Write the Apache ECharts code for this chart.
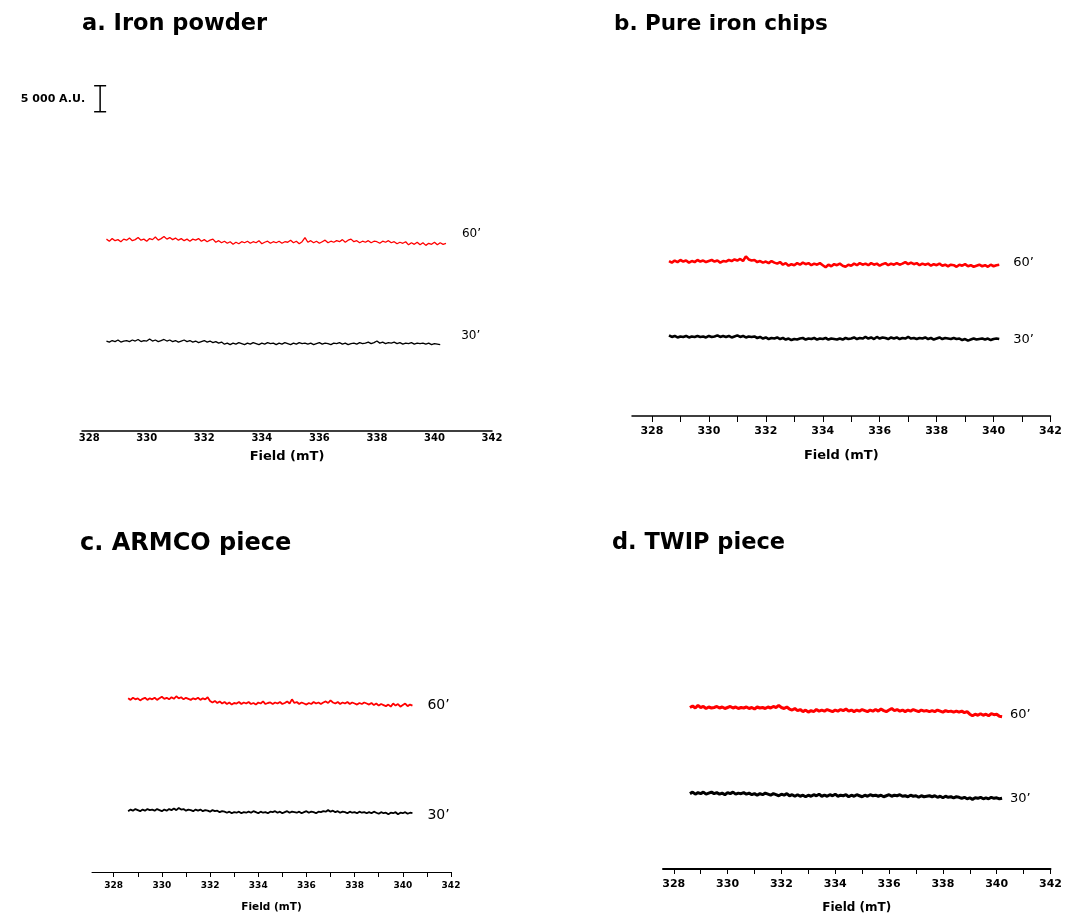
<!DOCTYPE html>
<html>
<head>
<meta charset="utf-8">
<script src="https://cdn.jsdelivr.net/npm/echarts@6/dist/echarts.min.js"></script>
<style>
html, body { margin: 0; background: #fff; }
#main { width: 1065px; height: 915px; }
</style>
</head>
<body>
<div id="main"></div>
<script>
// field (mT) sample points
var field = [
  328.6, 328.7, 328.8, 328.9, 329.0, 329.1, 329.2, 329.3, 329.4, 329.5,
  329.6, 329.7, 329.8, 329.9, 330.0, 330.1, 330.2, 330.3, 330.4, 330.5,
  330.6, 330.7, 330.8, 330.9, 331.0, 331.1, 331.2, 331.3, 331.4, 331.5,
  331.6, 331.7, 331.8, 331.9, 332.0, 332.1, 332.2, 332.3, 332.4, 332.5,
  332.6, 332.7, 332.8, 332.9, 333.0, 333.1, 333.2, 333.3, 333.4, 333.5,
  333.6, 333.7, 333.8, 333.9, 334.0, 334.1, 334.2, 334.3, 334.4, 334.5,
  334.6, 334.7, 334.8, 334.9, 335.0, 335.1, 335.2, 335.3, 335.4, 335.5,
  335.6, 335.7, 335.8, 335.9, 336.0, 336.1, 336.2, 336.3, 336.4, 336.5,
  336.6, 336.7, 336.8, 336.9, 337.0, 337.1, 337.2, 337.3, 337.4, 337.5,
  337.6, 337.7, 337.8, 337.9, 338.0, 338.1, 338.2, 338.3, 338.4, 338.5,
  338.6, 338.7, 338.8, 338.9, 339.0, 339.1, 339.2, 339.3, 339.4, 339.5,
  339.6, 339.7, 339.8, 339.9, 340.0, 340.1, 340.2, 340.3, 340.4
];
var tickValues = [328, 329, 330, 331, 332, 333, 334, 335, 336, 337, 338, 339, 340, 341, 342];
var labelValues = [328, 330, 332, 334, 336, 338, 340, 342];

// intensities (A.U., with offsets)
var ironPowder60 = [
  36900, 36500, 37000, 36600, 36800, 36400, 36900, 36700, 37100, 36600,
  36800, 37200, 36700, 36900, 36500, 37000, 36800, 37300, 36700, 37000,
  37400, 36900, 37200, 36800, 37100, 36700, 37000, 36600, 36900, 36500,
  36900, 36700, 37000, 36500, 36800, 36400, 36700, 36900, 36300, 36600,
  36200, 36500, 36100, 36400, 35900, 36300, 36000, 36400, 36200, 36500,
  36100, 36400, 36200, 36600, 36000, 36300, 36500, 36100, 36400, 36200,
  36500, 36100, 36400, 36300, 36700, 36200, 36500, 36000, 36400, 37200,
  36300, 36600, 36200, 36500, 36100, 36400, 36700, 36200, 36500, 36300,
  36600, 36400, 36800, 36300, 36700, 36900, 36400, 36600, 36200, 36500,
  36300, 36600, 36200, 36500, 36400, 36100, 36500, 36300, 36600, 36200,
  36400, 36000, 36300, 36100, 36400, 35800, 36200, 35900, 36300, 35800,
  36200, 35700, 36100, 35900, 36300, 35800, 36200, 35900, 36100
];
var ironPowder30 = [
  17300, 17100, 17400, 17200, 17500, 17100, 17300, 17400, 17200, 17500,
  17300, 17600, 17200, 17400, 17300, 17700, 17300, 17500, 17200, 17400,
  17600, 17300, 17500, 17200, 17400, 17100, 17300, 17500, 17200, 17400,
  17100, 17300, 17000, 17200, 17400, 17100, 17300, 17000, 17200, 16900,
  17100, 16700, 16900, 16600, 16900, 16700, 17000, 16800, 16600, 16900,
  16700, 17000, 16800, 16600, 16900, 16700, 17000, 16800, 16900, 16600,
  16900, 16700, 17000, 16800, 16600, 16900, 16700, 17000, 16800, 16900,
  16700, 16900, 16600, 16800, 17000, 16700, 16900, 16800, 16600, 16900,
  16800, 17000, 16700, 16900, 16600, 16800, 16900, 16700, 17000, 16800,
  16900, 17100, 16800, 17000, 17300, 16900, 17100, 16800, 17000, 16900,
  17100, 16800, 17000, 16700, 16900, 16800, 17000, 16700, 16900, 16800,
  16900, 16700, 16900, 16600, 16800, 16700, 16600
];
var chips60 = [
  29800, 29500, 29900, 29600, 30000, 29700, 29900, 29500, 29800, 29600,
  30000, 29700, 29900, 29600, 29800, 30000, 29700, 29900, 29500, 29800,
  29700, 30000, 29800, 30100, 29900, 30200, 29800, 30700, 30100, 29900,
  30000, 29600, 29800, 29500, 29700, 29400, 29800, 29500, 29300, 29600,
  29100, 29400, 28900, 29200, 29000, 29400, 29100, 29500, 29200, 29400,
  29000, 29300, 29100, 29400, 29000, 28600, 29100, 28800, 29200, 29000,
  29300, 28900, 28700, 29100, 28900, 29300, 29000, 29400, 29100, 29300,
  29000, 29400, 29100, 29300, 28900, 29200, 29400, 29000, 29300, 29100,
  29400, 29100, 29300, 29600, 29200, 29500, 29200, 29400, 29000, 29300,
  29100, 29300, 28900, 29200, 29000, 29300, 28900, 29100, 28800, 29100,
  29000, 28700, 29100, 28900, 29200, 28800, 29000, 28700, 28900, 29100,
  28800, 29000, 28700, 29100, 28800, 29000, 29100
];
var chips30 = [
  15500, 15200, 15400, 15100, 15300, 15200, 15400, 15100, 15300, 15200,
  15400, 15200, 15300, 15100, 15400, 15200, 15300, 15500, 15200, 15400,
  15200, 15400, 15100, 15300, 15500, 15200, 15400, 15100, 15300, 15200,
  15300, 15000, 15200, 14900, 15100, 14800, 15000, 14900, 15100, 14800,
  15000, 14700, 14900, 14600, 14800, 14700, 14900, 15000, 14700, 14900,
  14800, 15000, 14700, 14900, 14800, 15000, 14700, 14900, 14800, 14700,
  14900, 14700, 15000, 14800, 14900, 15100, 14800, 15000, 14900, 15200,
  14900, 15100, 14800, 15200, 14900, 15100, 15000, 14800, 15100, 14900,
  15100, 14800, 15000, 14900, 15200, 14900, 15000, 14800, 15000, 14900,
  15100, 14800, 15000, 14700, 14900, 15100, 14800, 15000, 14900, 14800,
  15000, 14800, 14900, 14600, 14800, 14500, 14700, 14900, 14700, 14800,
  14900, 14700, 14900, 14600, 14800, 14900, 14800
];
var armco60 = [
  33400, 33100, 33500, 33200, 33400, 33000, 33300, 33500, 33100, 33400,
  33200, 33500, 33100, 33400, 33700, 33300, 33500, 33200, 33600, 33300,
  33800, 33400, 33600, 33200, 33500, 33300, 33100, 33400, 33200, 33500,
  33100, 33400, 33200, 33600, 32900, 32600, 32900, 32500, 32800, 32400,
  32700, 32300, 32600, 32200, 32500, 32400, 32700, 32300, 32600, 32400,
  32700, 32300, 32500, 32200, 32600, 32400, 32800, 32300, 32500, 32600,
  32300, 32600, 32400, 32700, 32300, 32500, 32800, 32400, 33200, 32500,
  32700, 32300, 32600, 32400, 32200, 32500, 32300, 32700, 32400, 32600,
  32300, 32600, 32800, 32500, 33000, 32600, 32400, 32700, 32300, 32600,
  32400, 32700, 32300, 32600, 32400, 32200, 32500, 32300, 32600, 32400,
  32200, 32500, 32100, 32400, 32000, 32300, 32100, 31900, 32200, 31800,
  32400, 32000, 32300, 31800, 32100, 32400, 31900, 32200, 32000
];
var armco30 = [
  11700, 12000, 11800, 12100, 11900, 11700, 12000, 11800, 12100, 11900,
  12000, 11800, 12100, 11900, 11700, 12000, 11800, 12100, 11900, 12200,
  11900, 12300, 12000, 12100, 11800, 12000, 11900, 11700, 12000, 11800,
  12000, 11700, 11900, 11800, 11600, 11900, 11700, 11800, 11500, 11700,
  11600, 11400, 11600, 11300, 11500, 11400, 11600, 11300, 11500, 11400,
  11600, 11400, 11700, 11500, 11300, 11600, 11400, 11500, 11300, 11600,
  11500, 11700, 11400, 11600, 11300, 11500, 11700, 11400, 11600, 11500,
  11400, 11600, 11300, 11500, 11700, 11400, 11600, 11500, 11300, 11600,
  11500, 11700, 11600, 11900, 11600, 11800, 11500, 11700, 11400, 11600,
  11500, 11300, 11600, 11400, 11500, 11300, 11600, 11400, 11500, 11300,
  11500, 11300, 11600, 11400, 11200, 11500, 11300, 11400, 11100, 11400,
  11300, 11500, 11100, 11400, 11300, 11500, 11200, 11400, 11300
];
var twip60 = [
  31300, 31600, 31200, 31700, 31300, 31500, 31100, 31400, 31200, 31300,
  31500, 31200, 31400, 31100, 31300, 31500, 31200, 31400, 31100, 31300,
  31200, 31400, 31100, 31300, 31000, 31400, 31200, 31300, 31100, 31400,
  31200, 31500, 31300, 31700, 31300, 31100, 31400, 31000, 30800, 31100,
  30700, 30900, 30500, 30800, 30400, 30700, 30500, 30900, 30600, 30800,
  30600, 30900, 30700, 30500, 30800, 30600, 30900, 30700, 31000, 30600,
  30800, 30500, 30800, 30600, 30900, 30700, 30500, 30800, 30600, 30900,
  30600, 31000, 30700, 30500, 30800, 31100, 30700, 30900, 30600, 30800,
  30500, 30800, 30600, 30900, 30700, 30500, 30800, 30600, 30700, 30500,
  30700, 30500, 30800, 30600, 30400, 30700, 30500, 30600, 30400, 30600,
  30400, 30600, 30300, 30500, 30000, 29700, 30000, 29800, 30100, 29800,
  30000, 29700, 30100, 29900, 30000, 29600, 29500
];
var twip30 = [
  14600, 14900, 14500, 14800, 14600, 14900, 14500, 14700, 14900, 14600,
  14800, 14500, 14700, 14400, 14800, 14600, 14900, 14500, 14700, 14600,
  14800, 14500, 14700, 14400, 14600, 14300, 14600, 14400, 14700, 14500,
  14300, 14600, 14400, 14200, 14500, 14300, 14600, 14200, 14400, 14100,
  14400, 14100, 14300, 14000, 14300, 14100, 14400, 14200, 14500, 14100,
  14300, 14100, 14400, 14200, 14500, 14100, 14300, 14200, 14400, 14000,
  14300, 14100, 14400, 14200, 14000, 14300, 14100, 14400, 14200, 14300,
  14100, 14300, 14000, 14200, 14400, 14100, 14300, 14200, 14400, 14100,
  14200, 14000, 14300, 14100, 14200, 13900, 14200, 14000, 14100, 14200,
  14000, 14200, 13900, 14100, 13800, 14100, 13900, 14000, 13800, 14000,
  13900, 13700, 13900, 13600, 13800, 13500, 13800, 13700, 13900, 13600,
  13800, 13600, 13900, 13700, 13800, 13600, 13700
];
var scaleBar = [[328.38, 61400, 66400]];

function pairs(vals) {
  return vals.map(function (v, i) { return [field[i], v]; });
}

var FONT = 'DejaVu Sans';

var panels = [
  { title: 'a. Iron powder', tx: 82, ty: 13, ts: 22.5, left: 82, top: 67, width: 410, height: 364, min: 327.75, ymax: 70000,
    tick: false, tickLen: 0, lab: 10, labM: 2, name: 13, nameGap: 19, axisW: 1.5, lw: 1.3,
    s60: ironPowder60, s30: ironPowder30, l60: { d: 16, o: [0, -9], f: 12 }, l30: { d: 21, o: [0, -9], f: 12 } },
  { title: 'b. Pure iron chips', tx: 614, ty: 13, ts: 21.5, left: 632, top: 156, width: 420, height: 260, min: 327.3, ymax: 50000,
    tick: true, tickLen: 6, lab: 11, labM: 10, name: 13, nameGap: 33, axisW: 1.5, lw: 2.6,
    s60: chips60, s30: chips30, l60: { d: 14, o: [0, -2], f: 13 }, l30: { d: 14, o: [0, 1], f: 13 } },
  { title: 'c. ARMCO piece', tx: 80, ty: 532, ts: 24, left: 92, top: 612, width: 359, height: 260, min: 327.1, ymax: 50000,
    tick: true, tickLen: 5, lab: 9, labM: 9, name: 10.5, nameGap: 30, axisW: 1, lw: 1.8,
    s60: armco60, s30: armco30, l60: { d: 15, o: [0, 0], f: 14 }, l30: { d: 15, o: [0, 2], f: 14 } },
  { title: 'd. TWIP piece', tx: 612, ty: 532, ts: 22.5, left: 663, top: 611, width: 393, height: 260, min: 327.6, ymax: 50000,
    tick: true, tickLen: 5, lab: 11, labM: 10, name: 12, nameGap: 33, axisW: 2, lw: 3,
    s60: twip60, s30: twip30, l60: { d: 8, o: [0, -2], f: 13 }, l30: { d: 8, o: [0, 0], f: 13 } }
];

var titles = [], grids = [], xAxes = [], yAxes = [], series = [];
panels.forEach(function (p, k) {
  titles.push({
    text: p.title, left: p.tx, top: p.ty, padding: 0,
    textStyle: { fontFamily: FONT, fontWeight: 'bold', fontSize: p.ts, color: '#000' }
  });
  grids.push({ left: p.left, top: p.top, width: p.width, height: p.height });
  xAxes.push({
    type: 'value', gridIndex: k, min: p.min, max: 342,
    name: 'Field (mT)', nameLocation: 'middle', nameGap: p.nameGap,
    nameTextStyle: { fontFamily: FONT, fontWeight: 'bold', fontSize: p.name, color: '#000' },
    axisLine: { show: true, lineStyle: { color: '#000', width: p.axisW } },
    axisTick: { show: p.tick, length: p.tickLen, customValues: tickValues, lineStyle: { color: '#000', width: 1 } },
    axisLabel: { customValues: labelValues, margin: p.labM, fontFamily: FONT, fontWeight: 'bold', fontSize: p.lab, color: '#000' },
    splitLine: { show: false }
  });
  yAxes.push({ type: 'value', gridIndex: k, min: 0, max: p.ymax, show: false });
  [[p.s60, '#ff0000', "60’", p.l60], [p.s30, '#000000', "30’", p.l30]].forEach(function (s) {
    series.push({
      type: 'line', xAxisIndex: k, yAxisIndex: k, data: pairs(s[0]),
      showSymbol: false, silent: true, animation: false,
      lineStyle: { color: s[1], width: p.lw },
      endLabel: {
        show: true, formatter: s[2], distance: s[3].d, offset: s[3].o,
        fontFamily: FONT, fontSize: s[3].f, color: '#000'
      }
    });
  });
});

// 5 000 A.U. scale bar in panel a
series.push({
  type: 'custom', xAxisIndex: 0, yAxisIndex: 0, data: scaleBar, clip: false, silent: true, animation: false,
  renderItem: function (params, api) {
    var lo = api.coord([api.value(0), api.value(1)]);
    var hi = api.coord([api.value(0), api.value(2)]);
    var st = { stroke: '#000', lineWidth: 1.5 };
    return {
      type: 'group',
      children: [
        { type: 'line', shape: { x1: lo[0], y1: lo[1], x2: hi[0], y2: hi[1] }, style: st },
        { type: 'line', shape: { x1: lo[0] - 6, y1: lo[1], x2: lo[0] + 6, y2: lo[1] }, style: st },
        { type: 'line', shape: { x1: hi[0] - 6, y1: hi[1], x2: hi[0] + 6, y2: hi[1] }, style: st },
        { type: 'text', style: { text: '5 000 A.U.', x: lo[0] - 15, y: (lo[1] + hi[1]) / 2,
          align: 'right', verticalAlign: 'middle', font: 'bold 11px "DejaVu Sans"', fill: '#000' } }
      ]
    };
  }
});

var myChart = echarts.init(document.getElementById('main'));
myChart.setOption({
  backgroundColor: '#fff',
  animation: false,
  title: titles,
  grid: grids,
  xAxis: xAxes,
  yAxis: yAxes,
  series: series
});
</script>
</body>
</html>
